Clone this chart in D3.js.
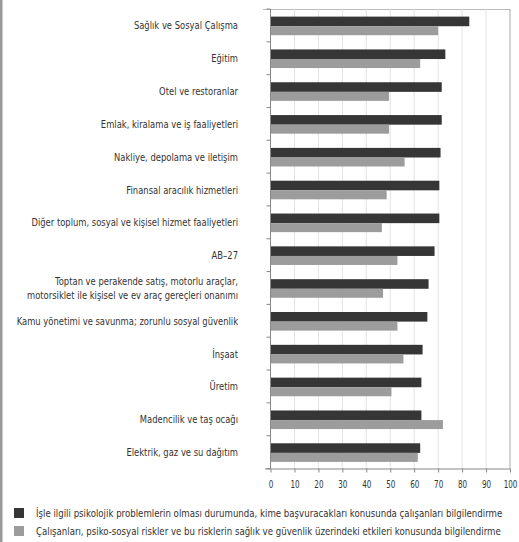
<!DOCTYPE html>
<html><head><meta charset="utf-8">
<script src="https://cdn.jsdelivr.net/npm/d3@7"></script>
<style>
html,body{margin:0;padding:0;background:#fff;}
svg{display:block;}
text{font-family:"DejaVu Sans",sans-serif;fill:#333;}
</style></head>
<body>
<svg id="chart" width="519" height="542"></svg>
<script>
const categories = [
  ["Sağlık ve Sosyal Çalışma"],
  ["Eğitim"],
  ["Otel ve restoranlar"],
  ["Emlak, kiralama ve iş faaliyetleri"],
  ["Nakliye, depolama ve iletişim"],
  ["Finansal aracılık hizmetleri"],
  ["Diğer toplum, sosyal ve kişisel hizmet faaliyetleri"],
  ["AB–27"],
  ["Toptan ve perakende satış, motorlu araçlar,", "motorsiklet ile kişisel ve ev araç gereçleri onanımı"],
  ["Kamu yönetimi ve savunma; zorunlu sosyal güvenlik"],
  ["İnşaat"],
  ["Üretim"],
  ["Madencilik ve taş ocağı"],
  ["Elektrik, gaz ve su dağıtım"]
];
const seriesDark = [83, 73, 71.5, 71.5, 71, 70.5, 70.5, 68.5, 66, 65.5, 63.5, 63, 63, 62.5];
const seriesLight = [70, 62.5, 49.5, 49.5, 56, 48.5, 46.5, 53, 47, 53, 55.5, 50.5, 72, 61.5];
const seriesNames = [
  "İşle ilgili psikolojik problemlerin olması durumunda, kime başvuracakları konusunda çalışanları bilgilendirme",
  "Çalışanları, psiko-sosyal riskler ve bu risklerin sağlık ve güvenlik üzerindeki etkileri konusunda bilgilendirme"
];
const xTicks = [0,10,20,30,40,50,60,70,80,90,100];
const colors = ["#363636", "#9c9c9c"];

(function(){
const svg = d3.select("#chart");
svg.append("rect").attr("x",0).attr("y",0).attr("width",2.5).attr("height",542).attr("fill","#9a9a9a");

const pL = 270.5, pR = 510, pT = 9, pB = 468.5;
const x = d3.scaleLinear().domain([0,100]).range([pL,pR]);
const y = d3.scaleBand().domain(d3.range(categories.length)).range([pT,pB]);

svg.append("line").attr("x1",263).attr("x2",pR).attr("y1",pT+0.5).attr("y2",pT+0.5).attr("stroke","#bbb");
svg.append("line").attr("x1",pR).attr("x2",pR).attr("y1",pT).attr("y2",pB).attr("stroke","#aaa");

svg.append("g").selectAll("line").data(xTicks.slice(1,-1)).join("line")
  .attr("x1",d=>x(d)).attr("x2",d=>x(d)).attr("y1",pT).attr("y2",pB)
  .attr("stroke","#e2e2e2").attr("stroke-width",1);

const bh = 9.6;
const g = svg.append("g");
const labels = svg.append("g").attr("transform","translate(238,0) scale(0.8,1)");
categories.forEach((c,i)=>{
  const cy = y(i) + y.bandwidth()/2 + 0.8;
  g.append("rect").attr("x",x(0)).attr("y",cy-bh).attr("width",x(seriesDark[i])-x(0)).attr("height",bh).attr("fill",colors[0]);
  g.append("rect").attr("x",x(0)).attr("y",cy).attr("width",x(seriesLight[i])-x(0)).attr("height",bh-0.6).attr("fill",colors[1]);
  const t = labels.append("text").attr("text-anchor","end").attr("font-size",10.5).attr("fill","#333");
  const n = c.length;
  c.forEach((line,k)=>{
    t.append("tspan").attr("x",0).attr("y", y(i)+y.bandwidth()/2 + 4 + (k-(n-1)/2)*14).text(line);
  });
});

svg.append("line").attr("x1",pL).attr("x2",pL).attr("y1",pT).attr("y2",pB).attr("stroke","#888");
svg.append("g").selectAll("line").data(d3.range(categories.length+1)).join("line")
  .attr("x1",pL-4).attr("x2",pL).attr("y1",d=>pT+d*y.step()).attr("y2",d=>pT+d*y.step()).attr("stroke","#888");

const xa = svg.append("g").attr("transform",`translate(0,${pB})`)
  .call(d3.axisBottom(x).tickValues(xTicks).tickSize(4).tickPadding(8));
xa.select(".domain").attr("stroke","#888").attr("d",`M265,0.5H${pR}`);
xa.selectAll(".tick line").attr("stroke","#888");
xa.selectAll("text").attr("font-size",10).attr("fill","#333")
  .attr("font-family","'DejaVu Sans',sans-serif").attr("transform","scale(0.72,1)");

const lg = svg.append("g");
const legW = [466, 464];
seriesNames.forEach((s,i)=>{
  const ly = 508 + i*18;
  lg.append("rect").attr("x",14).attr("y",ly).attr("width",10).attr("height",10).attr("fill",colors[i]);
  const tg = lg.append("g");
  const t = tg.append("text").attr("x",0).attr("y",0).attr("font-size",10.2).attr("fill","#333").text(s);
  const w = t.node().getComputedTextLength();
  tg.attr("transform",`translate(36,${ly+9}) scale(${legW[i]/w},1)`);
});
})();
</script>
</body></html>
